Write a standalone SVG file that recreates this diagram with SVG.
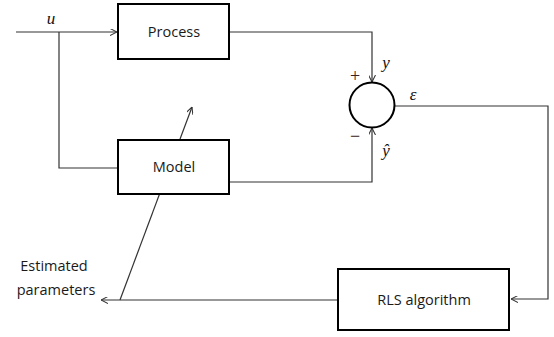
<svg xmlns="http://www.w3.org/2000/svg" width="554" height="337" viewBox="0 0 554 337">
<style>
.box{fill:#fff;stroke:#000;stroke-width:2}
.ln{fill:none;stroke:#333;stroke-width:1.2}
.lbl{font-family:"Open Sans","Liberation Sans",sans-serif;font-size:14.5px;fill:#1a1a1a}
.m{font-family:"Liberation Serif",serif;font-style:italic;font-size:17px;fill:#111}
.sg{font-family:"Liberation Serif",serif;font-size:18px;fill:#3a2020}
</style>
<defs>
<marker id="ah" viewBox="0 0 10 10" refX="10" refY="5" markerWidth="7" markerHeight="7" markerUnits="userSpaceOnUse" orient="auto">
<path d="M0,0 L10,5 L0,10" fill="none" stroke="#333" stroke-width="1.5"/>
</marker>
</defs>
<g id="connectors">
<line class="ln" x1="16" y1="32" x2="117" y2="32" marker-end="url(#ah)"/>
<polyline class="ln" points="59,32 59,168 118,168"/>
<polyline class="ln" points="229,32 372,32 372,82" marker-end="url(#ah)"/>
<polyline class="ln" points="229,182 372,182 372,128" marker-end="url(#ah)"/>
<polyline class="ln" points="394,106 548,106 548,299 511,299" marker-end="url(#ah)"/>
<line class="ln" x1="338" y1="300" x2="101" y2="300" marker-end="url(#ah)"/>
<line class="ln" x1="120" y1="300" x2="192" y2="107" marker-end="url(#ah)"/>
</g>
<g id="process">
<rect class="box" x="118" y="4" width="111" height="55"/>
<text class="lbl" x="174" y="37" text-anchor="middle">Process</text>
</g>
<g id="model">
<rect class="box" x="118" y="140" width="111" height="54"/>
<text class="lbl" x="174" y="172" text-anchor="middle">Model</text>
</g>
<g id="sum">
<circle cx="372" cy="105" r="22.5" fill="#fff" stroke="#000" stroke-width="2"/>
</g>
<g id="rls">
<rect class="box" x="338" y="269" width="171" height="61"/>
<text class="lbl" x="424" y="305" text-anchor="middle">RLS algorithm</text>
</g>
<g id="labels">
<text class="m" x="51" y="24" text-anchor="middle">u</text>
<text class="m" x="386" y="68" text-anchor="middle">y</text>
<text class="m" x="386" y="156" text-anchor="middle">ŷ</text>
<text class="m" x="413" y="100" text-anchor="middle">ε</text>
<text class="sg" x="355" y="82" text-anchor="middle">+</text>
<text class="sg" x="355" y="142" text-anchor="middle">−</text>
<text class="lbl" x="54" y="271" text-anchor="middle">Estimated</text>
<text class="lbl" x="56" y="295" text-anchor="middle">parameters</text>
</g>
</svg>
